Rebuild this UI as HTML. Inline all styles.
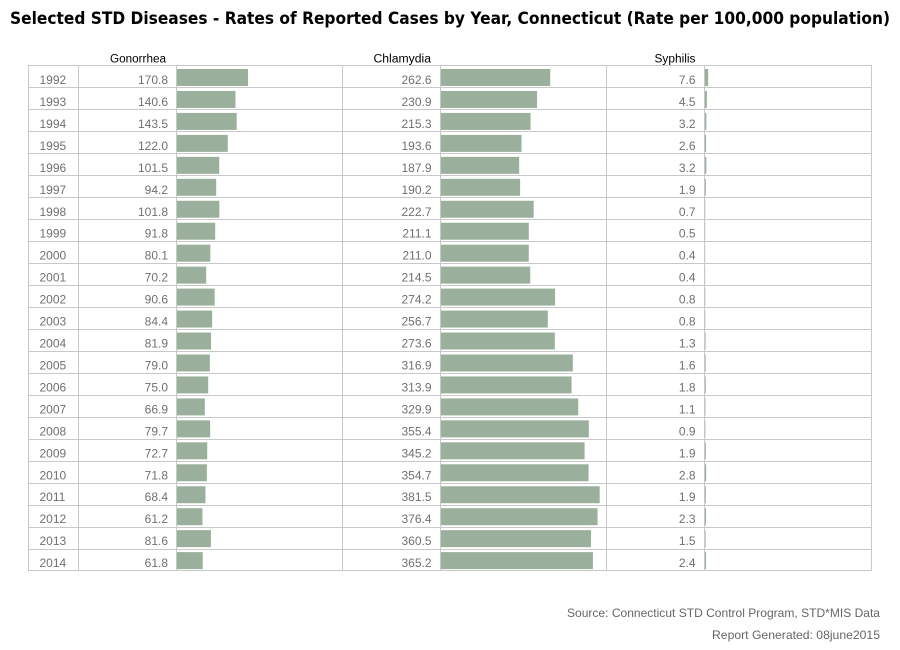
<!DOCTYPE html>
<html>
<head>
<meta charset="utf-8">
<style>
html,body{margin:0;padding:0;background:#fff;}
svg{display:block;}
.v{font-family:"Liberation Sans",Arial,sans-serif;font-size:12px;fill:#707070;}
.h{font-family:"Liberation Sans",Arial,sans-serif;font-size:11.5px;fill:#000;}
.f{font-family:"Liberation Sans",Arial,sans-serif;font-size:12px;fill:#666;}
.t{font-family:"DejaVu Sans","Liberation Sans",sans-serif;font-size:16.5px;font-weight:bold;fill:#000;}
</style>
</head>
<body>
<svg width="900" height="650" viewBox="0 0 900 650" xmlns="http://www.w3.org/2000/svg">
<rect x="0" y="0" width="900" height="650" fill="#fff"/>
<text class="t" x="10" y="24" textLength="880" lengthAdjust="spacingAndGlyphs">Selected STD Diseases - Rates of Reported Cases by Year, Connecticut (Rate per 100,000 population)</text>

<text class="h" x="110" y="62.5" textLength="56" lengthAdjust="spacingAndGlyphs">Gonorrhea</text>
<text class="h" x="373.5" y="62.5" textLength="57.5" lengthAdjust="spacingAndGlyphs">Chlamydia</text>
<text class="h" x="654.5" y="62.5" textLength="41" lengthAdjust="spacingAndGlyphs">Syphilis</text>

<!-- bars gonorrhea -->
<g fill="#9bb09c">
<rect x="177" y="69.00" width="71.05" height="17"/>
<rect x="177" y="90.96" width="58.49" height="17"/>
<rect x="177" y="112.92" width="59.70" height="17"/>
<rect x="177" y="134.88" width="50.75" height="17"/>
<rect x="177" y="156.84" width="42.22" height="17"/>
<rect x="177" y="178.80" width="39.19" height="17"/>
<rect x="177" y="200.76" width="42.35" height="17"/>
<rect x="177" y="222.72" width="38.19" height="17"/>
<rect x="177" y="244.68" width="33.32" height="17"/>
<rect x="177" y="266.64" width="29.20" height="17"/>
<rect x="177" y="288.60" width="37.69" height="17"/>
<rect x="177" y="310.56" width="35.11" height="17"/>
<rect x="177" y="332.52" width="34.07" height="17"/>
<rect x="177" y="354.48" width="32.86" height="17"/>
<rect x="177" y="376.44" width="31.20" height="17"/>
<rect x="177" y="398.40" width="27.83" height="17"/>
<rect x="177" y="420.36" width="33.16" height="17"/>
<rect x="177" y="442.32" width="30.24" height="17"/>
<rect x="177" y="464.28" width="29.87" height="17"/>
<rect x="177" y="486.24" width="28.45" height="17"/>
<rect x="177" y="508.20" width="25.46" height="17"/>
<rect x="177" y="530.16" width="33.95" height="17"/>
<rect x="177" y="552.12" width="25.71" height="17"/>
</g>
<!-- bars chlamydia -->
<g fill="#9bb09c">
<rect x="441" y="69.00" width="109.24" height="17"/>
<rect x="441" y="90.96" width="96.05" height="17"/>
<rect x="441" y="112.92" width="89.56" height="17"/>
<rect x="441" y="134.88" width="80.54" height="17"/>
<rect x="441" y="156.84" width="78.17" height="17"/>
<rect x="441" y="178.80" width="79.12" height="17"/>
<rect x="441" y="200.76" width="92.64" height="17"/>
<rect x="441" y="222.72" width="87.82" height="17"/>
<rect x="441" y="244.68" width="87.78" height="17"/>
<rect x="441" y="266.64" width="89.23" height="17"/>
<rect x="441" y="288.60" width="114.07" height="17"/>
<rect x="441" y="310.56" width="106.79" height="17"/>
<rect x="441" y="332.52" width="113.82" height="17"/>
<rect x="441" y="354.48" width="131.83" height="17"/>
<rect x="441" y="376.44" width="130.58" height="17"/>
<rect x="441" y="398.40" width="137.24" height="17"/>
<rect x="441" y="420.36" width="147.85" height="17"/>
<rect x="441" y="442.32" width="143.60" height="17"/>
<rect x="441" y="464.28" width="147.56" height="17"/>
<rect x="441" y="486.24" width="158.70" height="17"/>
<rect x="441" y="508.20" width="156.58" height="17"/>
<rect x="441" y="530.16" width="149.97" height="17"/>
<rect x="441" y="552.12" width="151.92" height="17"/>
</g>
<!-- bars syphilis -->
<g fill="#9bb09c">
<rect x="705" y="69.00" width="3.16" height="17"/>
<rect x="705" y="90.96" width="1.87" height="17"/>
<rect x="705" y="112.92" width="1.33" height="17"/>
<rect x="705" y="134.88" width="1.08" height="17"/>
<rect x="705" y="156.84" width="1.33" height="17"/>
<rect x="705" y="178.80" width="0.79" height="17"/>
<rect x="705" y="200.76" width="0.29" height="17"/>
<rect x="705" y="222.72" width="0.21" height="17"/>
<rect x="705" y="244.68" width="0.17" height="17"/>
<rect x="705" y="266.64" width="0.17" height="17"/>
<rect x="705" y="288.60" width="0.33" height="17"/>
<rect x="705" y="310.56" width="0.33" height="17"/>
<rect x="705" y="332.52" width="0.54" height="17"/>
<rect x="705" y="354.48" width="0.67" height="17"/>
<rect x="705" y="376.44" width="0.75" height="17"/>
<rect x="705" y="398.40" width="0.46" height="17"/>
<rect x="705" y="420.36" width="0.37" height="17"/>
<rect x="705" y="442.32" width="0.79" height="17"/>
<rect x="705" y="464.28" width="1.16" height="17"/>
<rect x="705" y="486.24" width="0.79" height="17"/>
<rect x="705" y="508.20" width="0.96" height="17"/>
<rect x="705" y="530.16" width="0.62" height="17"/>
<rect x="705" y="552.12" width="1.00" height="17"/>
</g>

<!-- grid -->
<g stroke="#c8c8c8" stroke-width="1" shape-rendering="crispEdges" fill="none">
<line x1="28" y1="65.5" x2="872" y2="65.5"/>
<line x1="28" y1="87.5" x2="872" y2="87.5"/>
<line x1="28" y1="109.5" x2="872" y2="109.5"/>
<line x1="28" y1="131.5" x2="872" y2="131.5"/>
<line x1="28" y1="153.5" x2="872" y2="153.5"/>
<line x1="28" y1="175.5" x2="872" y2="175.5"/>
<line x1="28" y1="197.5" x2="872" y2="197.5"/>
<line x1="28" y1="219.5" x2="872" y2="219.5"/>
<line x1="28" y1="241.5" x2="872" y2="241.5"/>
<line x1="28" y1="263.5" x2="872" y2="263.5"/>
<line x1="28" y1="285.5" x2="872" y2="285.5"/>
<line x1="28" y1="307.5" x2="872" y2="307.5"/>
<line x1="28" y1="329.5" x2="872" y2="329.5"/>
<line x1="28" y1="351.5" x2="872" y2="351.5"/>
<line x1="28" y1="373.5" x2="872" y2="373.5"/>
<line x1="28" y1="395.5" x2="872" y2="395.5"/>
<line x1="28" y1="417.5" x2="872" y2="417.5"/>
<line x1="28" y1="439.5" x2="872" y2="439.5"/>
<line x1="28" y1="461.5" x2="872" y2="461.5"/>
<line x1="28" y1="483.5" x2="872" y2="483.5"/>
<line x1="28" y1="505.5" x2="872" y2="505.5"/>
<line x1="28" y1="527.5" x2="872" y2="527.5"/>
<line x1="28" y1="549.5" x2="872" y2="549.5"/>
<line x1="28" y1="570.5" x2="872" y2="570.5"/>
<line x1="28.5" y1="65" x2="28.5" y2="571"/>
<line x1="78.5" y1="65" x2="78.5" y2="571"/>
<line x1="176.5" y1="65" x2="176.5" y2="571"/>
<line x1="342.5" y1="65" x2="342.5" y2="571"/>
<line x1="440.5" y1="65" x2="440.5" y2="571"/>
<line x1="606.5" y1="65" x2="606.5" y2="571"/>
<line x1="704.5" y1="65" x2="704.5" y2="571"/>
<line x1="871.5" y1="65" x2="871.5" y2="571"/>
</g>

<!-- years -->
<g class="v">
<text x="39.5" y="84.00">1992</text>
<text x="39.5" y="105.96">1993</text>
<text x="39.5" y="127.92">1994</text>
<text x="39.5" y="149.88">1995</text>
<text x="39.5" y="171.84">1996</text>
<text x="39.5" y="193.80">1997</text>
<text x="39.5" y="215.76">1998</text>
<text x="39.5" y="237.72">1999</text>
<text x="39.5" y="259.68">2000</text>
<text x="39.5" y="281.64">2001</text>
<text x="39.5" y="303.60">2002</text>
<text x="39.5" y="325.56">2003</text>
<text x="39.5" y="347.52">2004</text>
<text x="39.5" y="369.48">2005</text>
<text x="39.5" y="391.44">2006</text>
<text x="39.5" y="413.40">2007</text>
<text x="39.5" y="435.36">2008</text>
<text x="39.5" y="457.32">2009</text>
<text x="39.5" y="479.28">2010</text>
<text x="39.5" y="501.24">2011</text>
<text x="39.5" y="523.20">2012</text>
<text x="39.5" y="545.16">2013</text>
<text x="39.5" y="567.12">2014</text>
</g>

<!-- gonorrhea values -->
<g class="v" text-anchor="end">
<text x="168" y="84.00">170.8</text>
<text x="168" y="105.96">140.6</text>
<text x="168" y="127.92">143.5</text>
<text x="168" y="149.88">122.0</text>
<text x="168" y="171.84">101.5</text>
<text x="168" y="193.80">94.2</text>
<text x="168" y="215.76">101.8</text>
<text x="168" y="237.72">91.8</text>
<text x="168" y="259.68">80.1</text>
<text x="168" y="281.64">70.2</text>
<text x="168" y="303.60">90.6</text>
<text x="168" y="325.56">84.4</text>
<text x="168" y="347.52">81.9</text>
<text x="168" y="369.48">79.0</text>
<text x="168" y="391.44">75.0</text>
<text x="168" y="413.40">66.9</text>
<text x="168" y="435.36">79.7</text>
<text x="168" y="457.32">72.7</text>
<text x="168" y="479.28">71.8</text>
<text x="168" y="501.24">68.4</text>
<text x="168" y="523.20">61.2</text>
<text x="168" y="545.16">81.6</text>
<text x="168" y="567.12">61.8</text>
</g>

<!-- chlamydia values -->
<g class="v" text-anchor="end">
<text x="431.5" y="84.00">262.6</text>
<text x="431.5" y="105.96">230.9</text>
<text x="431.5" y="127.92">215.3</text>
<text x="431.5" y="149.88">193.6</text>
<text x="431.5" y="171.84">187.9</text>
<text x="431.5" y="193.80">190.2</text>
<text x="431.5" y="215.76">222.7</text>
<text x="431.5" y="237.72">211.1</text>
<text x="431.5" y="259.68">211.0</text>
<text x="431.5" y="281.64">214.5</text>
<text x="431.5" y="303.60">274.2</text>
<text x="431.5" y="325.56">256.7</text>
<text x="431.5" y="347.52">273.6</text>
<text x="431.5" y="369.48">316.9</text>
<text x="431.5" y="391.44">313.9</text>
<text x="431.5" y="413.40">329.9</text>
<text x="431.5" y="435.36">355.4</text>
<text x="431.5" y="457.32">345.2</text>
<text x="431.5" y="479.28">354.7</text>
<text x="431.5" y="501.24">381.5</text>
<text x="431.5" y="523.20">376.4</text>
<text x="431.5" y="545.16">360.5</text>
<text x="431.5" y="567.12">365.2</text>
</g>

<!-- syphilis values -->
<g class="v" text-anchor="end">
<text x="695.5" y="84.00">7.6</text>
<text x="695.5" y="105.96">4.5</text>
<text x="695.5" y="127.92">3.2</text>
<text x="695.5" y="149.88">2.6</text>
<text x="695.5" y="171.84">3.2</text>
<text x="695.5" y="193.80">1.9</text>
<text x="695.5" y="215.76">0.7</text>
<text x="695.5" y="237.72">0.5</text>
<text x="695.5" y="259.68">0.4</text>
<text x="695.5" y="281.64">0.4</text>
<text x="695.5" y="303.60">0.8</text>
<text x="695.5" y="325.56">0.8</text>
<text x="695.5" y="347.52">1.3</text>
<text x="695.5" y="369.48">1.6</text>
<text x="695.5" y="391.44">1.8</text>
<text x="695.5" y="413.40">1.1</text>
<text x="695.5" y="435.36">0.9</text>
<text x="695.5" y="457.32">1.9</text>
<text x="695.5" y="479.28">2.8</text>
<text x="695.5" y="501.24">1.9</text>
<text x="695.5" y="523.20">2.3</text>
<text x="695.5" y="545.16">1.5</text>
<text x="695.5" y="567.12">2.4</text>
</g>

<text class="f" x="567" y="617" textLength="313" lengthAdjust="spacingAndGlyphs">Source: Connecticut STD Control Program, STD*MIS Data</text>
<text class="f" x="712" y="639" textLength="168" lengthAdjust="spacingAndGlyphs">Report Generated: 08june2015</text>
</svg>
</body>
</html>
